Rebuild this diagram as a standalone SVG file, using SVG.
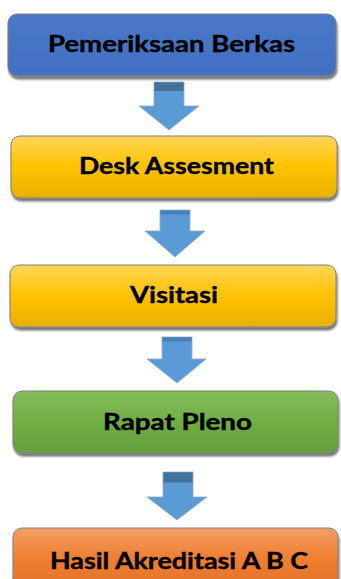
<svg xmlns="http://www.w3.org/2000/svg" width="341" height="579" viewBox="0 0 341 579">
<defs>
<style>
.box{stroke:#7f7f7f;stroke-width:1;filter:url(#sh)}
.lbl{font-family:Lato,"Open Sans","Liberation Sans",sans-serif;font-weight:bold;font-size:22px;fill:#000;stroke:#000;stroke-width:0.4;text-anchor:start}
.arr{fill:#5b9bd5;stroke:#8fa9c4;stroke-width:0.8}
.band{fill:#41719c}
</style>
<filter id="sh" x="-5%" y="-10%" width="112%" height="130%">
<feGaussianBlur in="SourceAlpha" stdDeviation="1.3"/>
<feOffset dx="1" dy="2.5" result="o"/>
<feComponentTransfer><feFuncA type="linear" slope="0.55"/></feComponentTransfer>
<feMerge><feMergeNode/><feMergeNode in="SourceGraphic"/></feMerge>
</filter>
<linearGradient id="gBlue" x1="0" y1="0" x2="0" y2="1"><stop offset="0" stop-color="#4a78c8"/><stop offset="1" stop-color="#4270c2"/></linearGradient>
<linearGradient id="gYel" x1="0" y1="0" x2="0" y2="1"><stop offset="0" stop-color="#ffd65a"/><stop offset="0.5" stop-color="#ffc200"/><stop offset="1" stop-color="#e8b000"/></linearGradient>
<linearGradient id="gGrn" x1="0" y1="0" x2="0" y2="1"><stop offset="0" stop-color="#85bd5c"/><stop offset="0.5" stop-color="#6fae44"/><stop offset="1" stop-color="#65a03c"/></linearGradient>
<linearGradient id="gOrg" x1="0" y1="0" x2="0" y2="1"><stop offset="0" stop-color="#f2a066"/><stop offset="0.5" stop-color="#ef7e30"/><stop offset="1" stop-color="#e0722a"/></linearGradient>
</defs>
<rect width="341" height="579" fill="#ffffff"/>
<g id="connectors">
<g id="arrow1"><path class="arr" d="M154,82 H184 V106 H199 L169,130 L139,106 H154 Z"/><rect class="band" x="154.5" y="82.5" width="29" height="8.5"/></g>
<g id="arrow2"><path class="arr" d="M160,210 H190 V231 H205 L175,257 L145,231 H160 Z"/><rect fill="#4a80b8" x="160.5" y="210.5" width="29" height="4"/></g>
<g id="arrow3"><path class="arr" d="M162,337 H192 V359 H206 L177,383 L147,359 H162 Z"/><rect fill="#4a80b8" x="162.5" y="337.5" width="29" height="4"/></g>
<g id="arrow4"><path class="arr" d="M163,472 H193 V497 H207 L177,520 L147,497 H163 Z"/><rect class="band" x="163.5" y="472.5" width="29" height="10"/></g>
</g>
<g id="node1"><rect class="box" x="8" y="14" width="328" height="62" rx="9" fill="url(#gBlue)"/><text class="lbl" x="48" y="52" textLength="247" lengthAdjust="spacingAndGlyphs">Pemeriksaan Berkas</text></g>
<g id="node2"><rect class="box" x="11" y="136" width="326" height="62" rx="9" fill="url(#gYel)"/><text class="lbl" x="79" y="174" textLength="195" lengthAdjust="spacingAndGlyphs">Desk Assesment</text></g>
<g id="node3"><rect class="box" x="10" y="265" width="326" height="62" rx="9" fill="url(#gYel)"/><text class="lbl" x="130" y="303" textLength="88" lengthAdjust="spacingAndGlyphs">Visitasi</text></g>
<g id="node4"><rect class="box" x="13" y="391" width="325" height="62" rx="9" fill="url(#gGrn)"/><text class="lbl" x="103" y="430" textLength="149" lengthAdjust="spacingAndGlyphs">Rapat Pleno</text></g>
<g id="node5"><rect class="box" x="13" y="528" width="325" height="62" rx="9" fill="url(#gOrg)"/><text class="lbl" x="50" y="569" textLength="258" lengthAdjust="spacingAndGlyphs">Hasil Akreditasi A B C</text></g>
</svg>
